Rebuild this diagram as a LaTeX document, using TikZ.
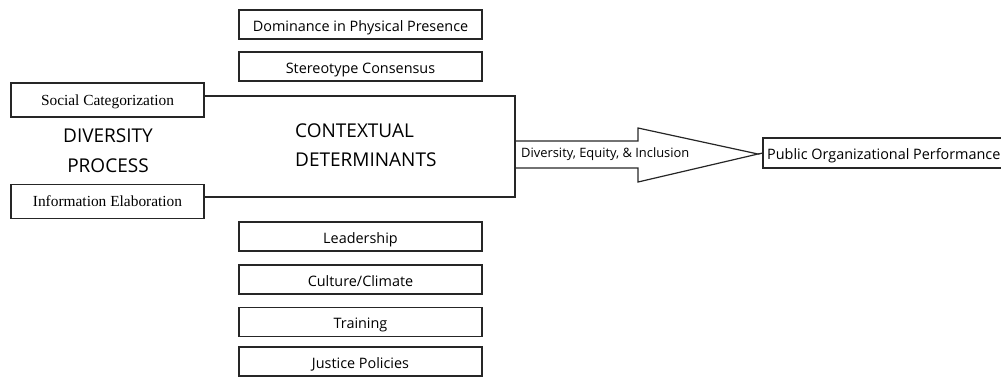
\documentclass[tikz,border=0pt]{standalone}
\usepackage{fontspec}
\setmainfont{Open Sans}
\newfontfamily\serifface{Liberation Serif}
\begin{document}
\begin{tikzpicture}[x=1pt,y=-1pt,
  frame/.style={draw=black!85, line width=1.2pt},
  sanslabel/.style={font=\fontsize{14.4}{15}\selectfont, text height=13.3pt, text depth=0pt},
  factorbox/.style={frame, sanslabel, minimum width=243pt, minimum height=29pt, inner sep=0pt},
  procbox/.style={frame, minimum width=193pt, minimum height=34pt, inner sep=0pt,
    font=\serifface\fontsize{15.4}{16}\selectfont, text height=10.2pt, text depth=0pt},
  heading/.style={font=\fontsize{19}{21}\selectfont, inner sep=0pt,
    text height=13.6pt, text depth=0pt}
]
\useasboundingbox (0,0) rectangle (1001,376);

% contextual factors above and below the bracket
\node[factorbox] (dom)  at (360.5,24.5)  {Dominance in Physical Presence};
\node[factorbox] (ster) at (360.5,66.5)  {Stereotype Consensus};
\node[factorbox] (lead) at (360.5,236.5) {Leadership};
\node[factorbox] (cult) at (360.5,279.5) {Culture/Climate};
\node[factorbox] (train) at (360.5,322) {Training};
\node[factorbox] (just) at (360.5,361.5) {Justice Policies};

% diversity process boxes
\node[procbox] (soc)  at (107.5,100) {Social Categorization};
\node[procbox] (info) at (107.5,201.5) {Information Elaboration};

% headings
\node[heading] (div)  at (108,136) {DIVERSITY};
\node[heading] (proc) at (108,166) {PROCESS};
\node[heading, anchor=west] (ctx) at (295,130.7) {CONTEXTUAL};
\node[heading, anchor=west] (det) at (295,160) {DETERMINANTS};

% outcome box, running off the right edge
\draw[frame] (1001,138) -- (763,138) -- (763,168) -- (1001,168);
\coordinate (pin) at (763,153);
\node[sanslabel, anchor=west, inner sep=0pt] (perf) at (767,153)
  {Public Organizational Performance};

% bracket joining the two process boxes
\coordinate (bt) at (515,96);
\coordinate (bb) at (515,197);
\draw[frame] (soc.east |- bt) -- (bt) -- (bb) -- (info.east |- bb);

% block arrow
\coordinate (tip) at (758,154);
\draw[frame, line join=miter] (515,141) -- (638,141) -- (638,128) -- (tip)
  -- (638,182) -- (638,168) -- (515,168);
\node[anchor=west, inner sep=0pt, font=\fontsize{12.9}{14}\selectfont] (dei) at (521,154)
  {Diversity, Equity, \& Inclusion};
\draw[frame] (tip) -- (pin);
\end{tikzpicture}
\end{document}
